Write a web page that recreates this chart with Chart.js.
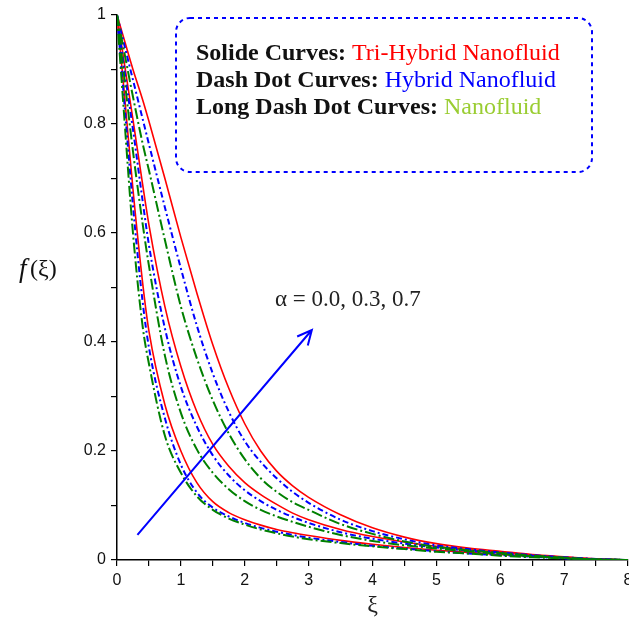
<!DOCTYPE html>
<html>
<head>
<meta charset="utf-8">
<script src="https://cdn.jsdelivr.net/npm/chart.js@4/dist/chart.umd.min.js"></script>
<style>
    html, body { margin: 0; padding: 0; background: #fff; }
    #chart { display: block; }
</style>
</head>
<body>
<canvas id="chart" width="629" height="627"></canvas>
<script>
// xi grid shared by every curve
const xi = [0, 0.1, 0.25, 0.4, 0.5, 0.75, 1, 1.25, 1.5, 1.75, 2, 2.25, 2.5, 2.75, 3, 3.5, 4, 4.5, 5, 5.5, 6, 6.5, 7, 7.5, 8];

// Tri-Hybrid nanofluid (solid, red)
const triAlpha00 = [1, 0.875, 0.68, 0.51, 0.42, 0.285, 0.2, 0.142, 0.107, 0.087, 0.074, 0.064, 0.056, 0.05, 0.045, 0.036, 0.029, 0.023, 0.018, 0.014, 0.01, 0.007, 0.004, 0.001, 0];
const triAlpha03 = [1, 0.923, 0.808, 0.69, 0.615, 0.465, 0.355, 0.272, 0.212, 0.172, 0.142, 0.12, 0.102, 0.086, 0.074, 0.056, 0.043, 0.033, 0.025, 0.019, 0.014, 0.009, 0.005, 0.002, 0];
const triAlpha07 = [1, 0.96, 0.9, 0.845, 0.805, 0.7, 0.592, 0.49, 0.395, 0.315, 0.25, 0.2, 0.163, 0.136, 0.115, 0.083, 0.059, 0.042, 0.03, 0.022, 0.016, 0.01, 0.006, 0.002, 0];

// Hybrid nanofluid (dash dot, blue)
const hybAlpha00 = [1, 0.86, 0.65, 0.475, 0.39, 0.26, 0.175, 0.124, 0.096, 0.08, 0.068, 0.059, 0.052, 0.046, 0.041, 0.033, 0.026, 0.021, 0.016, 0.012, 0.009, 0.006, 0.003, 0.001, 0];
const hybAlpha03 = [1, 0.912, 0.79, 0.66, 0.578, 0.425, 0.318, 0.245, 0.192, 0.155, 0.128, 0.108, 0.092, 0.079, 0.068, 0.051, 0.039, 0.03, 0.023, 0.017, 0.012, 0.008, 0.004, 0.001, 0];
const hybAlpha07 = [1, 0.952, 0.881, 0.81, 0.763, 0.647, 0.535, 0.43, 0.342, 0.272, 0.218, 0.18, 0.15, 0.125, 0.105, 0.074, 0.053, 0.038, 0.027, 0.02, 0.014, 0.009, 0.005, 0.002, 0];

// Nanofluid (long dash dot, green)
const nanoAlpha00 = [1, 0.835, 0.6, 0.43, 0.36, 0.228, 0.16, 0.117, 0.092, 0.076, 0.065, 0.056, 0.049, 0.043, 0.038, 0.031, 0.025, 0.02, 0.015, 0.012, 0.008, 0.005, 0.003, 0.001, 0];
const nanoAlpha03 = [1, 0.9, 0.75, 0.618, 0.54, 0.375, 0.27, 0.203, 0.16, 0.13, 0.108, 0.092, 0.08, 0.07, 0.061, 0.046, 0.035, 0.027, 0.021, 0.016, 0.011, 0.007, 0.004, 0.001, 0];
const nanoAlpha07 = [1, 0.94, 0.85, 0.765, 0.715, 0.587, 0.465, 0.37, 0.293, 0.232, 0.185, 0.15, 0.125, 0.106, 0.092, 0.066, 0.048, 0.034, 0.024, 0.018, 0.013, 0.008, 0.004, 0.001, 0];

// axis tick labels
const xTicks = [0, 1, 2, 3, 4, 5, 6, 7, 8];
const yTicks = [0, 0.2, 0.4, 0.6, 0.8, 1];

// arrow for increasing alpha, in data units
const arrowFrom = [0.32, 0.046];
const arrowTo = [3.05, 0.422];
const arrowLabel = "α = 0.0, 0.3, 0.7";

const legendLines = [
    ["Solide Curves: ", "Tri-Hybrid Nanofluid", "#ff0000"],
    ["Dash Dot Curves: ", "Hybrid Nanofluid", "#0000ff"],
    ["Long Dash Dot Curves: ", "Nanofluid", "#9acd32"]
];

const toPoints = (ys) => ys.map((y, i) => ({x: xi[i], y: y}));

const GREEN = "#008000", BLUE = "#0000ff", RED = "#ff0000";
const greenDash = [11, 3, 2, 3];
const blueDash = [6, 3, 2, 3];

function curve(label, ys, color, dash, width) {
    return {
        label: label,
        data: toPoints(ys),
        borderColor: color,
        borderWidth: width,
        borderDash: dash,
        pointRadius: 0,
        fill: false,
        cubicInterpolationMode: "monotone"
    };
}

const datasets = [
    curve("Nanofluid α=0.0", nanoAlpha00, GREEN, greenDash, 2),
    curve("Nanofluid α=0.3", nanoAlpha03, GREEN, greenDash, 2),
    curve("Nanofluid α=0.7", nanoAlpha07, GREEN, greenDash, 2),
    curve("Hybrid α=0.0", hybAlpha00, BLUE, blueDash, 2),
    curve("Hybrid α=0.3", hybAlpha03, BLUE, blueDash, 2),
    curve("Hybrid α=0.7", hybAlpha07, BLUE, blueDash, 2),
    curve("Tri-Hybrid α=0.0", triAlpha00, RED, [], 1.6),
    curve("Tri-Hybrid α=0.3", triAlpha03, RED, [], 1.6),
    curve("Tri-Hybrid α=0.7", triAlpha07, RED, [], 1.6)
];

// extra drawing: y title, legend box, arrow with its label
const decorations = {
    id: "decorations",
    afterDraw(chart) {
        const ctx = chart.ctx;
        const xs = chart.scales.x, ys = chart.scales.y;
        ctx.save();

        // y-axis title f(xi), horizontal
        ctx.fillStyle = "#111";
        ctx.textBaseline = "middle";
        ctx.textAlign = "left";
        ctx.font = "italic 27px 'Liberation Serif'";
        ctx.fillText("f", 19, 270);
        ctx.font = "24px 'Liberation Serif'";
        ctx.fillText("(ξ)", 30, 270);

        // legend box
        ctx.strokeStyle = BLUE;
        ctx.lineWidth = 2;
        ctx.setLineDash([4, 4]);
        ctx.beginPath();
        ctx.roundRect(176, 18, 416, 154, 14);
        ctx.stroke();
        ctx.setLineDash([]);

        ctx.textBaseline = "alphabetic";
        legendLines.forEach((ln, i) => {
            const y = 60 + i * 27;
            ctx.font = "bold 24px 'Liberation Serif'";
            ctx.fillStyle = "#111";
            ctx.fillText(ln[0], 196, y);
            const w = ctx.measureText(ln[0]).width;
            ctx.font = "24px 'Liberation Serif'";
            ctx.fillStyle = ln[2];
            ctx.fillText(ln[1], 196 + w, y);
        });

        // arrow
        const x1 = xs.getPixelForValue(arrowFrom[0]), y1 = ys.getPixelForValue(arrowFrom[1]);
        const x2 = xs.getPixelForValue(arrowTo[0]), y2 = ys.getPixelForValue(arrowTo[1]);
        ctx.strokeStyle = BLUE;
        ctx.lineWidth = 2;
        ctx.beginPath();
        ctx.moveTo(x1, y1);
        ctx.lineTo(x2, y2);
        const ang = Math.atan2(y2 - y1, x2 - x1);
        const head = 16, spread = 0.45;
        ctx.moveTo(x2 - head * Math.cos(ang - spread), y2 - head * Math.sin(ang - spread));
        ctx.lineTo(x2, y2);
        ctx.lineTo(x2 - head * Math.cos(ang + spread), y2 - head * Math.sin(ang + spread));
        ctx.stroke();

        ctx.fillStyle = "#222";
        ctx.font = "23px 'Liberation Serif'";
        ctx.textBaseline = "middle";
        ctx.fillText(arrowLabel, 275, 300);

        ctx.restore();
    }
};

const fmt = (v) => parseFloat(v.toFixed(1)).toString();

new Chart(document.getElementById("chart"), {
    type: "line",
    data: { datasets: datasets },
    options: {
        responsive: false,
        animation: false,
        layout: { padding: { top: 15, right: 1, left: 0, bottom: 0 } },
        plugins: {
            legend: { display: false },
            tooltip: { enabled: false }
        },
        scales: {
            x: {
                type: "linear",
                min: 0,
                max: 8,
                afterFit: (scale) => {
                    scale.height = 67;
                    scale.paddingLeft = 0;
                    scale.paddingRight = 0;
                },
                ticks: {
                    stepSize: 0.5,
                    autoSkip: false,
                    maxRotation: 0,
                    padding: 5,
                    color: "#111",
                    font: { family: "'Liberation Sans'", size: 16 },
                    callback: (v) => xTicks.includes(v) ? fmt(v) : ""
                },
                grid: {
                    drawOnChartArea: false,
                    drawTicks: true,
                    tickLength: 6,
                    color: "#000",
                    lineWidth: 1.2
                },
                border: { display: true, color: "#000", width: 1.5 },
                title: {
                    display: true,
                    text: "ξ",
                    color: "#222",
                    font: { family: "'Liberation Serif'", size: 24 },
                    padding: { top: 0, bottom: 7 }
                }
            },
            y: {
                type: "linear",
                min: 0,
                max: 1,
                afterFit: (scale) => {
                    scale.width = 117;
                    scale.paddingTop = 0;
                    scale.paddingBottom = 0;
                },
                ticks: {
                    stepSize: 0.1,
                    autoSkip: false,
                    padding: 5,
                    color: "#111",
                    font: { family: "'Liberation Sans'", size: 16 },
                    callback: (v) => yTicks.some(t => Math.abs(t - v) < 1e-6) ? fmt(v) : ""
                },
                grid: {
                    drawOnChartArea: false,
                    drawTicks: true,
                    tickLength: 6,
                    color: "#000",
                    lineWidth: 1.2
                },
                border: { display: true, color: "#000", width: 1.5 }
            }
        }
    },
    plugins: [decorations]
});
</script>
</body>
</html>
